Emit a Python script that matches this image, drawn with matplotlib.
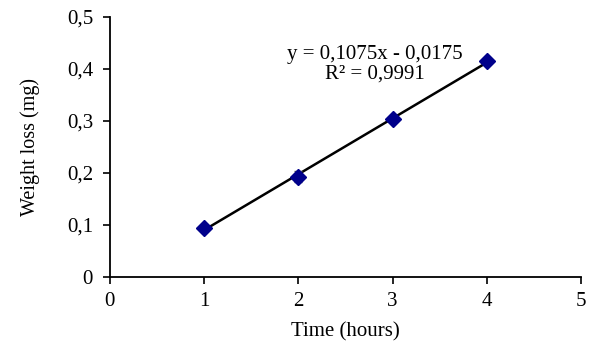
import matplotlib
matplotlib.use("Agg")
import matplotlib.pyplot as plt
import numpy as np

time_h = [1, 2, 3, 4]
weight_loss = [0.094, 0.193, 0.303, 0.415]
errors = [0.003, 0.010, 0.005, 0.003]
slope = 0.1075
intercept = -0.0175
eq_text = "y = 0,1075x - 0,0175\nR² = 0,9991"
x_ticks = [0, 1, 2, 3, 4, 5]
y_ticks = [0, 0.1, 0.2, 0.3, 0.4, 0.5]
y_labels = ["0", "0,1", "0,2", "0,3", "0,4", "0,5"]

plt.rcParams['font.family'] = ['Liberation Serif', 'DejaVu Serif']

fig = plt.figure(figsize=(5.9, 3.47), dpi=100)
ax = fig.add_axes([0.186, 0.202, 0.799, 0.749])

fit_x = np.array([time_h[0], time_h[-1]])
ax.plot(fit_x, slope * fit_x + intercept, color='black', lw=1.8, zorder=2)
ax.errorbar(time_h, weight_loss, yerr=errors, fmt='D', color='#00008B',
            ecolor='#555555', elinewidth=1, capsize=3, markersize=8, zorder=3)

ax.text(2.81, 0.409, eq_text, ha='center', va='center', fontsize=15, linespacing=1.05)

ax.set_xlim(0, 5)
ax.set_ylim(0, 0.5)
ax.set_xticks(x_ticks)
ax.set_xticklabels([str(t) for t in x_ticks])
ax.set_yticks(y_ticks)
ax.set_yticklabels(y_labels)
ax.tick_params(axis='y', labelsize=15, length=5, width=1.2, direction='out', pad=7)
ax.tick_params(axis='x', labelsize=15, length=5, width=1.2, direction='out', pad=6)
for s in ['top', 'right']:
    ax.spines[s].set_visible(False)
for s in ['left', 'bottom']:
    ax.spines[s].set_linewidth(1.3)
ax.set_xlabel("Time (hours)", fontsize=15, labelpad=8)
ax.set_ylabel("Weight loss (mg)", fontsize=14.5, labelpad=19)

fig.savefig("out.png", dpi=100)
